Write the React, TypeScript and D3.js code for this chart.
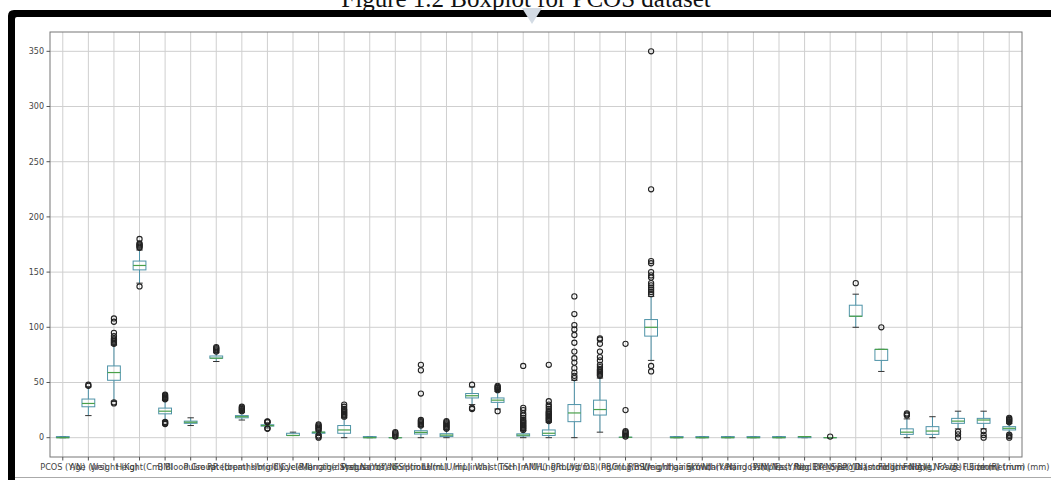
import React from "react";
import * as d3 from "d3";

const categories = [
  "PCOS (Y/N)", "Age (yrs)", "Weight (Kg)", "Height(Cm)", "BMI", "Blood Group",
  "Pulse rate(bpm)", "RR (breaths/min)", "Hb(g/dl)", "Cycle(R/I)", "Cycle length(days)",
  "Marraige Status (Yrs)", "Pregnant(Y/N)", "No. of aborptions", "FSH(mIU/mL)", "LH(mIU/mL)",
  "Hip(inch)", "Waist(inch)", "TSH (mIU/L)", "AMH(ng/mL)", "PRL(ng/mL)", "Vit D3 (ng/mL)",
  "PRG(ng/mL)", "RBS(mg/dl)", "Weight gain(Y/N)", "hair growth(Y/N)", "Skin darkening (Y/N)",
  "Hair loss(Y/N)", "Pimples(Y/N)", "Fast food (Y/N)", "Reg.Exercise(Y/N)",
  "BP _Systolic (mmHg)", "BP _Diastolic (mmHg)", "Follicle No. (L)", "Follicle No. (R)",
  "Avg. F size (L) (mm)", "Avg. F size (R) (mm)", "Endometrium (mm)",
];

const q1 = [0, 28, 52, 152, 21.6, 13, 72, 18, 10.5, 2, 4, 4, 0, 0, 3.3, 1, 36, 32, 1.5, 2, 14.5, 20.5, 0.25, 92, 0, 0, 0, 0, 0, 0, 0, 110, 70, 3, 3, 13, 13, 7];
const medians = [0, 31, 59, 156, 24, 14, 72, 19, 11, 2, 5, 7, 0, 0, 4.8, 2.3, 38, 34, 2.3, 4, 22.4, 25.5, 0.32, 100, 0, 0, 0, 0, 0, 1, 0, 110, 80, 5, 6, 15, 16, 8.5];
const q3 = [1, 35, 65, 160, 26.8, 15, 74, 20, 11.7, 4, 5, 11, 1, 0, 6.3, 3.6, 40, 36, 3.5, 7, 30, 34, 0.45, 107, 1, 1, 1, 1, 1, 1, 0, 120, 80, 8, 10, 17.5, 17.5, 10];
const whiskerLow = [0, 20, 33, 140, 15, 11, 69, 16, 8.8, 2, 3, 0, 0, 0, 0, 0, 30, 26, 0, 0, 0, 5, 0, 70, 0, 0, 0, 0, 0, 0, 0, 100, 60, 0, 0, 8, 8, 3];
const whiskerHigh = [1, 46, 84, 170, 34, 18, 77, 23, 13.5, 5, 6, 18, 1, 0, 10, 7.5, 46, 42, 6.5, 14, 52, 54, 0.75, 128, 1, 1, 1, 1, 1, 1, 0, 130, 80, 17, 19, 24, 24, 13];
const outliers: number[][] = [
  [],
  [47, 48],
  [31, 32, 85, 86, 87, 88, 89, 90, 92, 95, 105, 108],
  [137, 172, 173, 174, 175, 176, 180],
  [12.4, 13, 13.6, 14.2, 34.8, 35.5, 36.2, 37, 38, 38.9],
  [],
  [78, 79, 80, 81, 82],
  [24, 25, 26, 27, 28],
  [8, 8.5, 14, 14.5, 14.8],
  [],
  [0, 1, 2, 7, 8, 9, 10, 11, 12],
  [19, 20, 21, 22, 23, 24, 25, 26, 28, 30],
  [],
  [1, 2, 3, 4, 5],
  [11, 12, 13, 14, 15, 16, 40, 61, 66],
  [8, 9, 10, 11, 12, 13, 14, 15],
  [26, 27, 48],
  [24, 43, 44, 45, 46, 47],
  [7, 8, 9, 10, 11, 12, 13, 14, 15, 16, 18, 20, 22, 25, 27, 65],
  [15, 16, 17, 18, 19, 20, 21, 22, 23, 24, 26, 28, 30, 33, 66],
  [54, 56, 59, 63, 68, 72, 78, 86, 93, 98, 102, 112, 128],
  [56, 57, 58, 59, 60, 61, 62, 64, 66, 70, 73, 78, 85, 89, 90],
  [1, 2, 3, 4, 5, 6, 25, 85],
  [60, 65, 130, 132, 134, 136, 138, 140, 145, 147, 150, 158, 160, 225, 350],
  [], [], [], [], [], [],
  [1],
  [140],
  [100],
  [20, 21, 22],
  [],
  [0, 3, 5.5],
  [0, 2.5, 6],
  [0, 1.5, 2.7, 14, 15, 16, 17, 18],
];
const yTicks = [0, 50, 100, 150, 200, 250, 300, 350];
const title = "Figure 1.2 Boxplot for PCOS dataset";

const W = 1051, H = 480;
const L = 50, R = 1022, T = 32, B = 457;

export default function App() {
  const n = categories.length;
  const x = d3.scaleLinear().domain([0.5, n + 0.5]).range([L, R]);
  const y = d3.scaleLinear().domain([-17.5, 367.5]).range([B, T]);
  const step = x(2) - x(1);
  const bw = step * 0.5;
  const cw = bw * 0.5;
  const boxColor = "#4f93a8";
  const medColor = "#4aa04a";
  const font = "'DejaVu Sans', sans-serif";

  return (
    <svg width={W} height={H} style={{ position: "absolute", left: 0, top: 0, background: "#fff" }}>
      <rect x={0} y={0} width={W} height={H} fill="#fff" />
      <text x={526} y={7} textAnchor="middle" fontFamily="'Liberation Serif', serif" fontSize={25} fill="#111">{title}</text>
      {/* frame */}
      <path d={`M8,480 L8,16 Q8,10 14,10 L${W},10 L${W},17 L17,17 Q15,17 15,19 L15,480 Z`} fill="#000" />
      <polygon points="522,8 542,8 532,24" fill="#d3dbe4" />
      <line x1={15} x2={W} y1={477.5} y2={477.5} stroke="#aaa" strokeWidth={1} />
      {/* grid */}
      {yTicks.map((t) => (
        <line key={"gy" + t} x1={L} x2={R} y1={y(t)} y2={y(t)} stroke="#cfcfcf" strokeWidth={1} />
      ))}
      {categories.map((c, i) => (
        <line key={"gx" + i} x1={x(i + 1)} x2={x(i + 1)} y1={T} y2={B} stroke="#cfcfcf" strokeWidth={1} />
      ))}
      {/* boxes */}
      {categories.map((c, i) => {
        const cx = x(i + 1);
        return (
          <g key={"b" + i}>
            <line x1={cx} x2={cx} y1={y(q1[i])} y2={y(whiskerLow[i])} stroke={boxColor} strokeWidth={1} />
            <line x1={cx} x2={cx} y1={y(q3[i])} y2={y(whiskerHigh[i])} stroke={boxColor} strokeWidth={1} />
            <line x1={cx - cw / 2} x2={cx + cw / 2} y1={y(whiskerLow[i])} y2={y(whiskerLow[i])} stroke="#333" strokeWidth={1} />
            <line x1={cx - cw / 2} x2={cx + cw / 2} y1={y(whiskerHigh[i])} y2={y(whiskerHigh[i])} stroke="#333" strokeWidth={1} />
            <rect x={cx - bw / 2} y={y(q3[i])} width={bw} height={Math.max(0.01, y(q1[i]) - y(q3[i]))} fill="none" stroke={boxColor} strokeWidth={1} />
            <line x1={cx - bw / 2} x2={cx + bw / 2} y1={y(medians[i])} y2={y(medians[i])} stroke={medColor} strokeWidth={1.2} />
            {outliers[i].map((v, j) => (
              <circle key={j} cx={cx} cy={y(v)} r={2.6} fill="none" stroke="#222" strokeWidth={1.1} />
            ))}
          </g>
        );
      })}
      {/* axes frame */}
      <rect x={L} y={T} width={R - L} height={B - T} fill="none" stroke="#777" strokeWidth={1} />
      {yTicks.map((t) => (
        <g key={"ty" + t}>
          <line x1={L - 3.5} x2={L} y1={y(t)} y2={y(t)} stroke="#555" />
          <text x={L - 6} y={y(t)} dy="0.35em" textAnchor="end" fontFamily={font} fontSize={8} fill="#444">{t}</text>
        </g>
      ))}
      {categories.map((c, i) => (
        <g key={"tx" + i}>
          <line x1={x(i + 1)} x2={x(i + 1)} y1={B} y2={B + 3.5} stroke="#555" />
          <text x={x(i + 1)} y={470} textAnchor="middle" fontFamily={font} fontSize={8.2} fill="#444">{c}</text>
        </g>
      ))}
    </svg>
  );
}
